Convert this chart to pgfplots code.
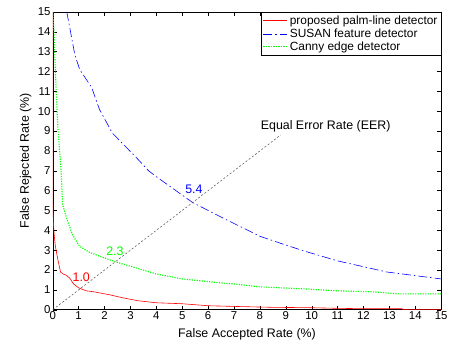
\documentclass[border=0pt]{standalone}
\usepackage{pgfplots}
\pgfplotsset{compat=1.18}
\usepackage{fontspec}
\setmainfont{Liberation Sans}
\begin{document}
\begin{tikzpicture}
\begin{axis}[
  scale only axis, width=390bp, height=299bp,
  xmin=0, xmax=15, ymin=0, ymax=15,
  xtick={0,1,...,15}, ytick={0,1,...,15},
  tick align=inside, tick pos=both,
  major tick length=4bp,
  tick style={black, line width=0.4pt},
  axis line style={line width=0.5pt},
  /pgf/number format/assume math mode=true,
  tick label style={font=\fontsize{11.5}{12}\selectfont},
  xticklabel style={inner sep=1.5bp},
  yticklabel style={inner sep=2bp},
  label style={font=\fontsize{12.5}{13}\selectfont},
  xlabel={False Accepted Rate (\%)},
  ylabel={False Rejected Rate (\%)},
  xlabel style={yshift=-4bp},
  ylabel style={yshift=1bp},
  legend style={at={(1,1)}, anchor=north east, font=\fontsize{12}{13}\selectfont, draw=black, line width=0.5pt, inner sep=1.5pt, row sep=-1pt, cells={anchor=west}},
  legend image code/.code={\draw[#1] (0bp,0bp) -- (24bp,0bp);},
  legend cell align=left,
]
\addplot[red, line width=0.6pt] coordinates {
 (0,15) (0,5.6) (0.03,4.2) (0.06,3.7) (0.1,3.2) (0.2,2.5) (0.3,1.9) (0.4,1.8) (0.5,1.75) (0.65,1.6) (0.8,1.3) (1.0,1.1) (1.3,0.95) (1.6,0.9) (2.2,0.75) (2.7,0.6) (3.3,0.45) (4,0.35) (5,0.3) (6,0.2) (7.5,0.15) (8.5,0.12) (10,0.1) (11,0.07) (12,0.05) (13.5,0.05) (13.5,0) (15,0)
};
\addlegendentry{proposed palm-line detector}
\addplot[blue, line width=0.6pt, dash pattern=on 9bp off 3bp on 1.5bp off 3bp] coordinates {
 (0.54,15) (0.65,14.25) (0.85,12.85) (1.04,12.1) (1.5,11.2) (1.8,10.1) (2.3,8.9) (2.45,8.7) (3.2,7.7) (3.7,7.0) (4.0,6.7) (5.4,5.4) (6.6,4.6) (8.0,3.7) (8.9,3.3) (9.7,2.96) (11.0,2.46) (12.9,1.9) (15,1.55)
};
\addlegendentry{SUSAN feature detector}
\addplot[green, line width=1.1pt, dash pattern=on 1.2bp off 1.3bp] coordinates {
 (0,15) (0.05,14) (0.1,12) (0.15,10.5) (0.2,9.1) (0.3,7.4) (0.33,6.8) (0.38,5.3) (0.52,4.67) (0.75,3.8) (1.03,3.2) (1.4,2.9) (1.8,2.7) (2.45,2.4) (3.1,2.15) (4,1.8) (5,1.55) (6.5,1.35) (7,1.3) (8,1.15) (9.7,1.05) (11,0.95) (12.4,0.9) (13.3,0.8) (15,0.8)
};
\addlegendentry{Canny edge detector}
\addplot[black!70, line width=0.5pt, dash pattern=on 2bp off 2bp, forget plot] coordinates {(0,0) (8.8,8.8)};
\node[font=\fontsize{12.5}{13}\selectfont, anchor=west] at (axis cs:7.9,9.25) {Equal Error Rate (EER)};
\node[red, font=\fontsize{12.5}{13}\selectfont] at (axis cs:1.1,1.65) {1.0};
\node[green, font=\fontsize{12.5}{13}\selectfont] at (axis cs:2.4,2.95) {2.3};
\node[blue, font=\fontsize{12.5}{13}\selectfont] at (axis cs:5.45,6.05) {5.4};
\end{axis}
\path ([shift={(-53bp,-36bp)}]current axis.south west) rectangle ([shift={(6bp,12bp)}]current axis.north east);
\end{tikzpicture}
\end{document}
